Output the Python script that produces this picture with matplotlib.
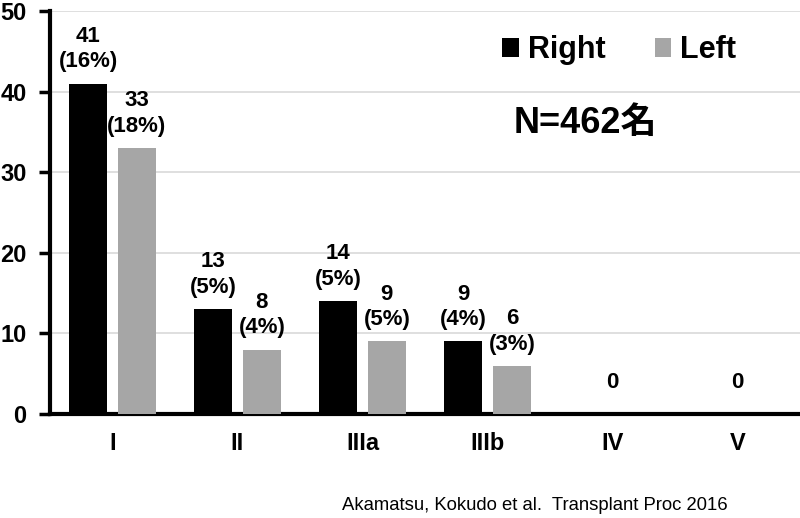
import matplotlib
matplotlib.use("Agg")
import matplotlib.pyplot as plt
import numpy as np

plt.rcParams['font.family'] = ['Liberation Sans', 'Noto Sans CJK JP', 'DejaVu Sans']

categories = ['I', 'II', 'IIIa', 'IIIb', 'IV', 'V']
right = [41, 13, 14, 9, 0, 0]
left = [33, 8, 9, 6, 0, 0]
right_pct = ['16%', '5%', '5%', '4%', '', '']
left_pct = ['18%', '4%', '5%', '3%', '', '']
yticks = [0, 10, 20, 30, 40, 50]

black = '#000000'
gray = '#A6A6A6'

fig = plt.figure(figsize=(8, 5.18), dpi=100)
ax = fig.add_axes([0.0625, 0.2008, 0.9375, 0.778])

x = np.arange(len(categories))
w = 0.30
off = 0.195
b1 = ax.bar(x - off, right, w, color=black, label='Right', zorder=3)
b2 = ax.bar(x + off, left, w, color=gray, label='Left', zorder=3)

for i in range(len(categories)):
    if right[i] == 0 and left[i] == 0:
        ax.annotate('0', (x[i], 0), xytext=(0, 15), textcoords='offset points',
                    ha='center', va='bottom', fontsize=16, fontweight='bold')
        continue
    ax.annotate(f'{right[i]}\n({right_pct[i]})', (x[i] - off, right[i]), xytext=(0, 8),
                textcoords='offset points', ha='center', va='bottom',
                fontsize=16, fontweight='bold', linespacing=1.3)
    ax.annotate(f'{left[i]}\n({left_pct[i]})', (x[i] + off, left[i]), xytext=(0, 8),
                textcoords='offset points', ha='center', va='bottom',
                fontsize=16, fontweight='bold', linespacing=1.3)

ax.set_xlim(-0.5, len(categories) - 0.5)
ax.set_ylim(0, 50)
ax.set_yticks(yticks)
ax.set_xticks(x)
ax.set_xticklabels(categories, fontsize=17, fontweight='bold')
ax.set_yticklabels([str(t) for t in yticks], fontsize=17, fontweight='bold')
ax.tick_params(axis='x', length=0, pad=13)
ax.tick_params(axis='y', length=8, width=2.5, direction='out', pad=9)
ax.yaxis.grid(True, color='#D9D9D9', linewidth=1.2, zorder=0)
ax.set_axisbelow(True)
for s in ['top', 'right']:
    ax.spines[s].set_visible(False)
ax.spines['left'].set_linewidth(3)
ax.spines['bottom'].set_linewidth(3)

ax.legend(handles=[b1, b2], loc='upper right', bbox_to_anchor=(0.952, 1.008), ncol=2,
          frameon=False, handlelength=0.55, handleheight=0.55, handletextpad=0.3,
          columnspacing=1.6, prop={'size': 22, 'weight': 'bold'})

ax.text(0.618, 0.72, 'N=462名', transform=ax.transAxes, fontsize=26, fontweight='bold',
        ha='left', va='center')

fig.text(0.91, 0.025, 'Akamatsu, Kokudo et al.  Transplant Proc 2016', fontsize=13.3,
         ha='right', va='center')

fig.savefig('out.png', dpi=100)
